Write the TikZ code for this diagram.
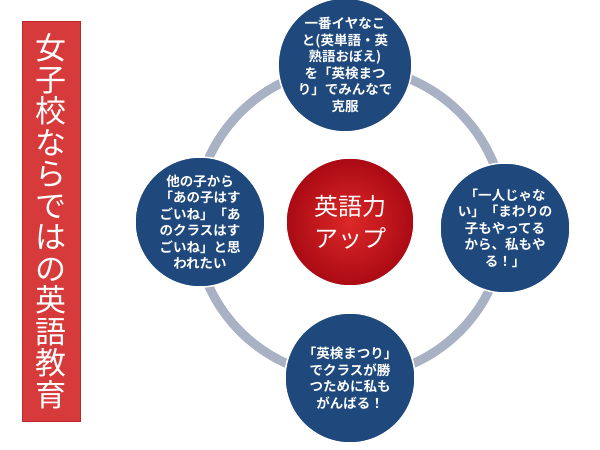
\documentclass[tikz,border=0pt]{standalone}
\usepackage{fontspec}
\newfontfamily\cjk{Noto Sans CJK JP}
\newfontfamily\cjkb{Noto Sans CJK JP Bold}
\begin{document}
\begin{tikzpicture}[x=1pt,y=-1pt,
  small/.style={circle,draw=white,line width=1.5pt,fill={rgb,255:red,31;green,73;blue,125},minimum size=130pt,inner sep=0pt,text=white,align=center,font=\cjkb\fontsize{13.5}{16.5}\selectfont},
  ]
\useasboundingbox (0,0) rectangle (600,450);
\fill[white] (0,0) rectangle (600,450);
\coordinate (c) at (350,222);
\draw[line width=9pt,color={rgb,255:red,168;green,178;blue,196}] (c) circle (155);
\node[rectangle,fill={rgb,255:red,214;green,58;blue,58},draw={rgb,255:red,190;green,40;blue,40},minimum width=58pt,minimum height=400pt,anchor=north west,text=white,inner sep=0pt,align=center,font=\cjk\fontsize{31}{31.5}\selectfont] (title) at (22,21) {女\\子\\校\\な\\ら\\で\\は\\の\\英\\語\\教\\育};
\node[circle,draw=white,line width=1.5pt,inner color={rgb,255:red,220;green,40;blue,40},outer color={rgb,255:red,170;green,10;blue,20},minimum size=128pt,text=white,align=center,font=\cjk\fontsize{24}{32}\selectfont] (center) at (c) {英語力\\アップ};
\node[small] (top) at (345,65) {一番イヤなこ\\と(英単語・英\\熟語おぼえ)\\を「英検まつ\\り」でみんなで\\克服};
\node[small] (left) at (200,222) {他の子から\\「あの子はす\\ごいね」「あ\\のクラスはす\\ごいね」と思\\われたい};
\node[small] (right) at (505,228) {「一人じゃな\\い」「まわりの\\子もやってる\\から、私もや\\る！」};
\node[small] (bottom) at (350,378) {「英検まつり」\\でクラスが勝\\つために私も\\がんばる！};
\end{tikzpicture}
\end{document}
